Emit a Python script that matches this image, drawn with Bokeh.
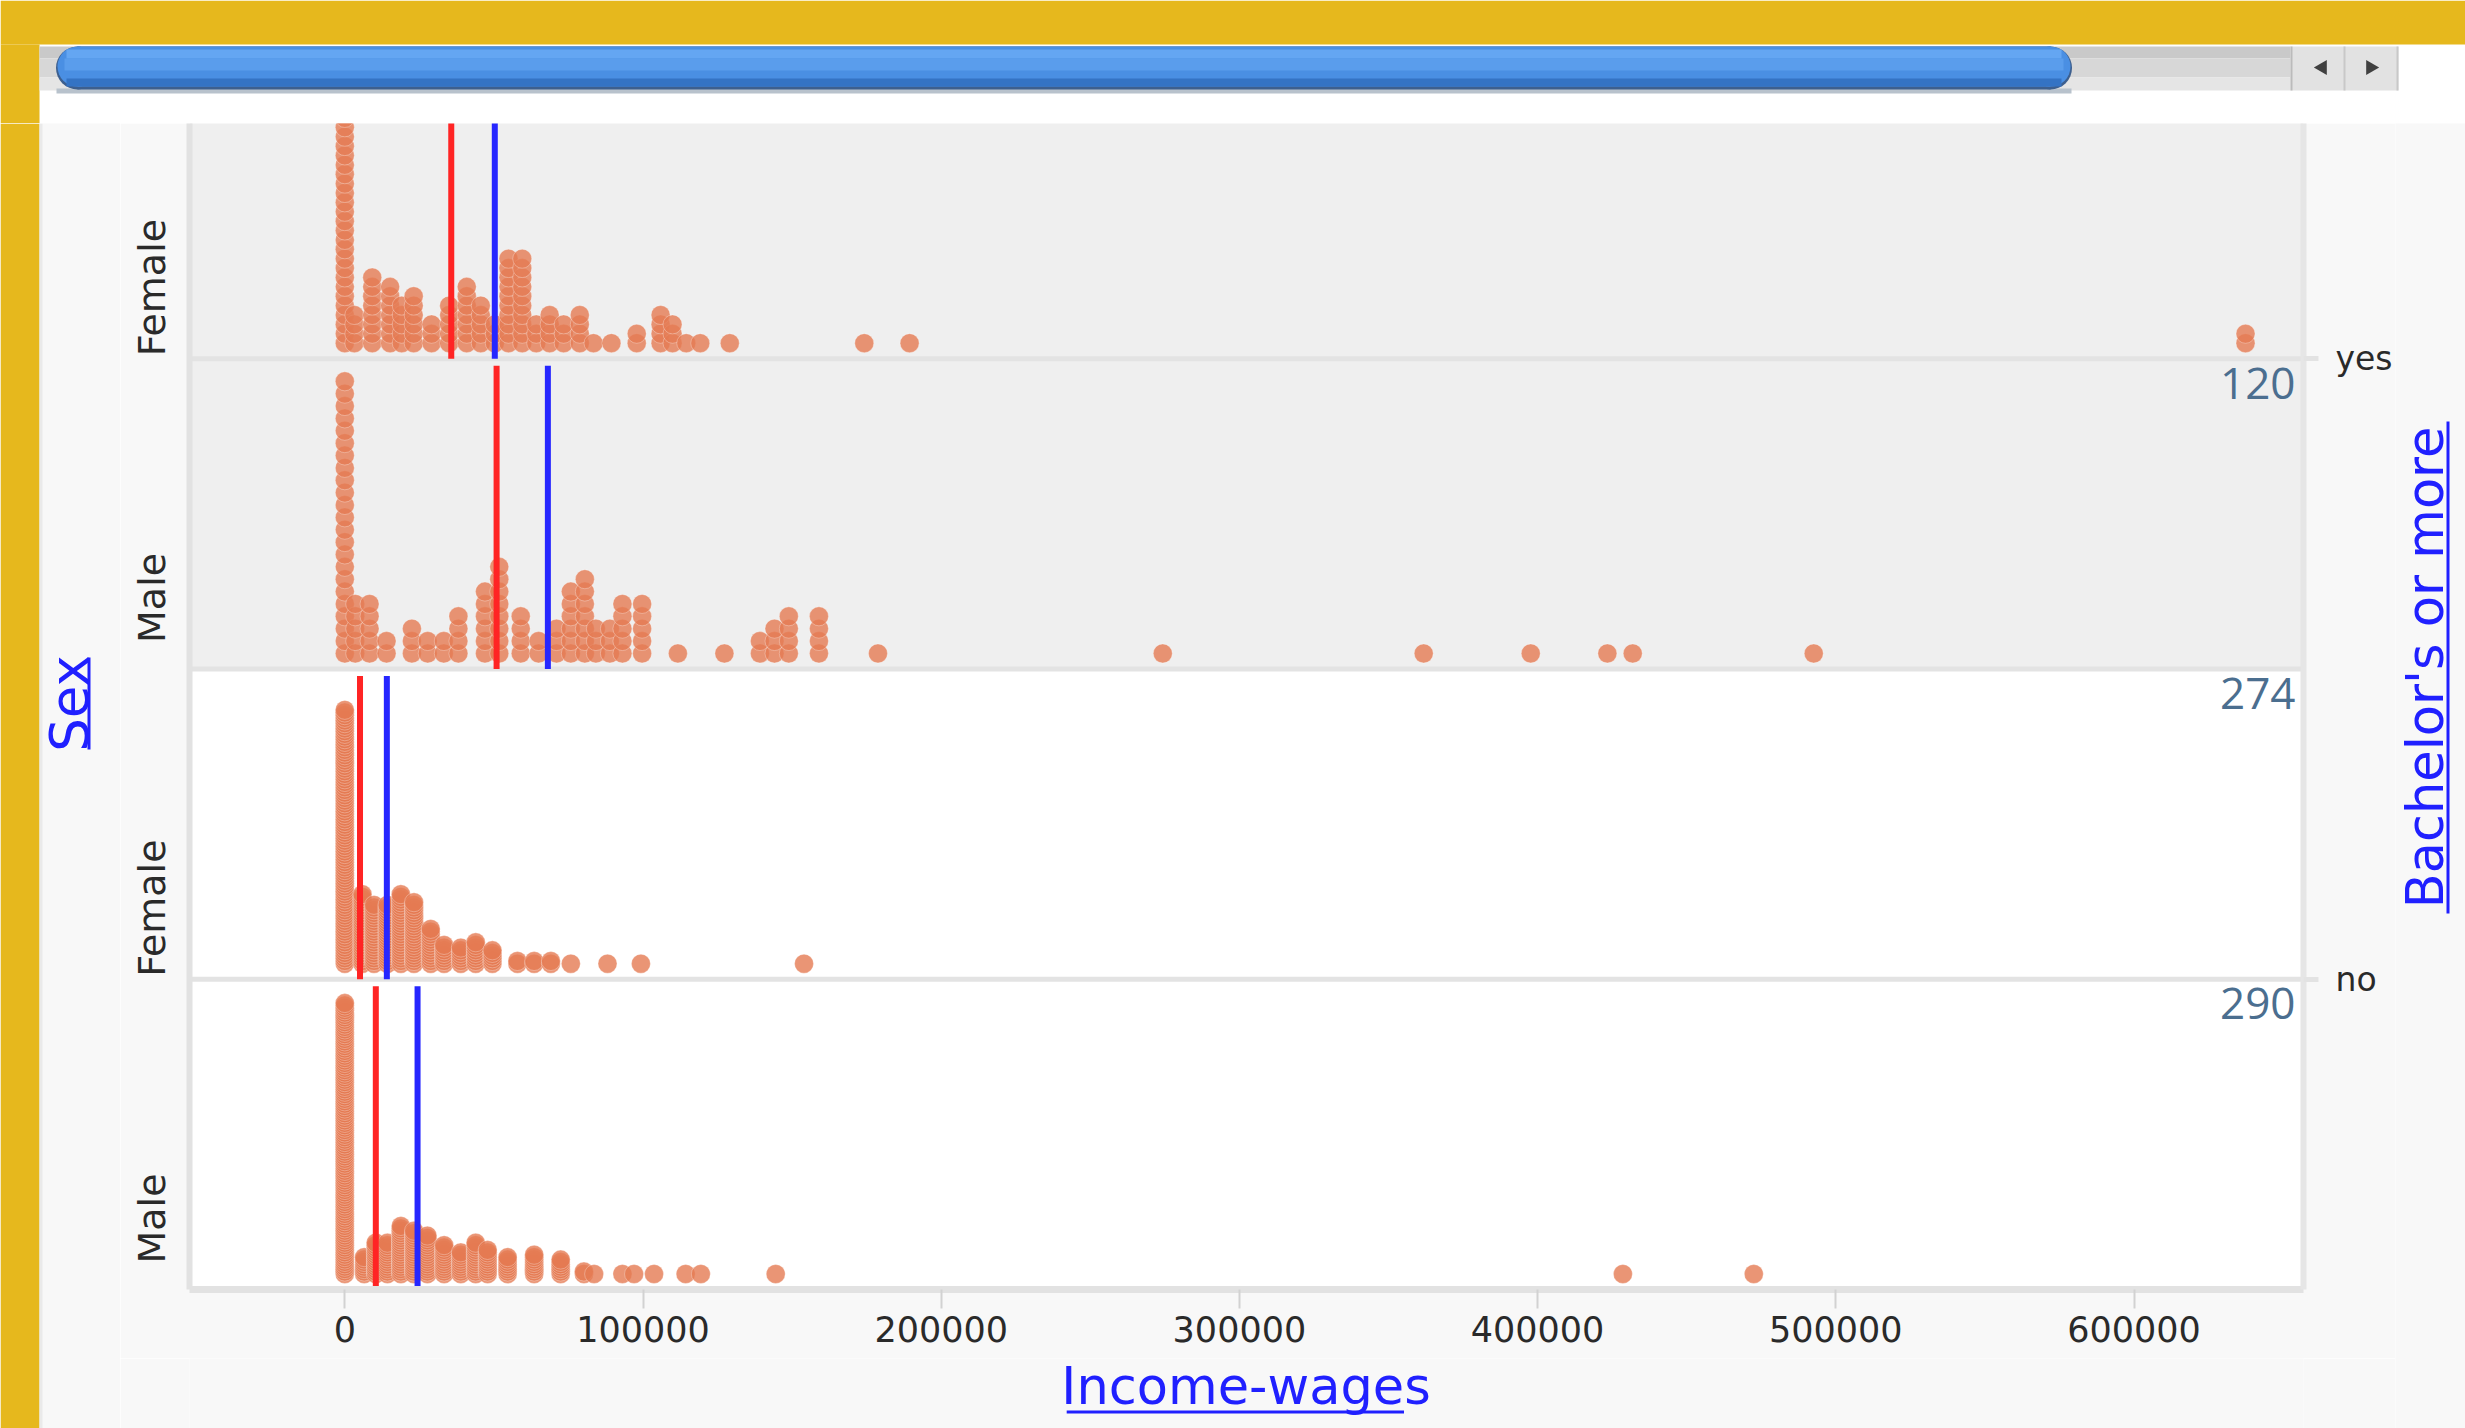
import math
from bokeh.plotting import figure
from bokeh.layouts import row, column
from bokeh.models import (BoxAnnotation, Span, FixedTicker, LinearAxis,
                          NumeralTickFormatter, ColumnDataSource, Range1d)
from bokeh.core.properties import value
from bokeh.embed import file_html
from bokeh.resources import INLINE

# ---------------- data ----------------
panel_bachelor = ["yes", "yes", "no", "no"]          # panels, top to bottom
panel_sex = ["Female", "Male", "Female", "Male"]

yes_female_income = [0, 3200, 9200, 15200, 19100, 23100, 29100, 35000, 40900, 45600,
                     50300, 54900, 59500, 64200, 68700, 73400, 78800, 83400, 89400, 97900,
                     105900, 109900, 114500, 119200, 129100, 174200, 189400, 637400]
yes_female_count = [30, 4, 8, 7, 5, 6, 3, 5, 7, 5,
                    3, 10, 10, 3, 4, 3, 4, 1, 1, 2,
                    4, 3, 1, 1, 1, 1, 1, 2]

yes_male_income = [0, 3500, 8300, 14000, 22500, 27800, 33200, 38100, 47000, 51800,
                   59000, 65000, 71000, 75800, 80500, 84200, 88900, 93100, 99700, 111700,
                   127300, 139200, 144100, 148900, 159000, 178800, 274300, 361800, 397700,
                   423400, 431900, 492600]
yes_male_count = [23, 5, 5, 2, 3, 2, 2, 4, 6, 8,
                  4, 2, 3, 6, 7, 3, 3, 5, 5, 1,
                  1, 2, 3, 4, 4, 1, 1, 1, 1,
                  1, 1, 1]

no_female_income = [0, 5900, 9800, 14300, 18800, 23200, 28800, 33300, 38900, 43900,
                    49500, 57900, 63500, 69100, 75800, 88100, 99300, 154000]
no_female_count = [96, 27, 23, 23, 27, 24, 14, 8, 7, 9,
                   6, 2, 2, 2, 1, 1, 1, 1]

no_male_income = [0, 6500, 10400, 14300, 18800, 23200, 27700, 33300, 38900, 43900,
                  47900, 54600, 63500, 72400, 80200, 83600, 93100, 97000, 103700, 114300,
                  119400, 144500, 428600, 472500]
no_male_count = [114, 8, 14, 14, 21, 19, 17, 13, 10, 14,
                 11, 8, 9, 7, 2, 1, 1, 1, 1, 1,
                 1, 1, 1, 1]

median_income = [35700, 50900, 5100, 10400]   # red lines
mean_income = [50300, 68100, 14100, 24400]     # blue lines
income_ticks = [0, 100000, 200000, 300000, 400000, 500000, 600000]

x_title = "Income-wages"
y_title = "Sex"
split_title = "Bachelor's or more"

panel_income = [yes_female_income, yes_male_income, no_female_income, no_male_income]
panel_count = [yes_female_count, yes_male_count, no_female_count, no_male_count]

# ---------------- layout (page pixels) ----------------
PAGE_W, PAGE_H = 2465, 1428
TOP_H = 123                 # window chrome above the plot
LEFT_W = 120                # yellow edge + "Sex"
RIGHT_W = 70                # "Bachelor's or more"
BOTTOM_Y = 1358             # strip that holds "Income-wages"
MAIN_W = PAGE_W - LEFT_W - RIGHT_W
MAIN_H = BOTTOM_Y - TOP_H
FRAME_L, FRAME_R, FRAME_B = 189, 2303, 1289      # plot frame, page pixels

PX_PER_INCOME = 298.2 / 100000.0
ZERO_PX = 344.3
X0 = (FRAME_L - ZERO_PX) / PX_PER_INCOME
X1 = (FRAME_R - ZERO_PX) / PX_PER_INCOME
N = len(panel_sex)
Y_TOP = 3.758                                   # top panel partly scrolled away
stack_fill = [0.877, 0.877, 0.818, 0.873]
DOT_BASE = 0.05

YELLOW = "#E6B81D"
OUTER = "#F8F8F8"
TITLE_BLUE = "#2020FF"


def chrome(w, h, x0, x1, y0, y1, bg):
    f = figure(width=w, height=h, x_range=Range1d(x0, x1), y_range=Range1d(y1, y0),
               output_backend="svg", toolbar_location=None,
               x_axis_location=None, y_axis_location=None, min_border=0,
               background_fill_color=bg, border_fill_color=bg, outline_line_color=None)
    f.title.visible = False
    f.xgrid.visible = False
    f.ygrid.visible = False
    return f


def box(f, l, r, t, b, color):
    f.quad(left=[l], right=[r], top=[t], bottom=[b], fill_color=color, line_color=None)


# ---------------- top: yellow edge and scroll bar ----------------
top = chrome(PAGE_W, TOP_H, 0, PAGE_W, 0, TOP_H, "white")
box(top, 0, PAGE_W, 0, 44, YELLOW)
box(top, 0, 39, 44, TOP_H, YELLOW)
box(top, 39, 2290, 46, 58, "#C9C9C9")
box(top, 39, 2290, 58, 77, "#D7D7D7")
box(top, 39, 2290, 77, 90, "#E5E5E5")
box(top, 56, 2071, 88, 93, "#B8C2CC")
top.circle(x=[77, 2050], y=[67.5, 67.5], radius=21.5, fill_color="#3D5F8E", line_color=None)
box(top, 77, 2050, 46, 89, "#3D5F8E")
top.circle(x=[77, 2050], y=[66, 66], radius=20, fill_color="#4A8FE3", line_color=None)
box(top, 77, 2050, 46, 86, "#4A8FE3")
box(top, 66, 2061, 49, 58, "#64A6F2")
box(top, 64, 2063, 58, 70, "#5A9DEC")
box(top, 66, 2061, 78, 86, "#3473C4")
box(top, 2290, 2398, 46, 90, "#E2E2E2")
box(top, 2290, 2292, 46, 90, "#BBBBBB")
box(top, 2343, 2345, 46, 90, "#C8C8C8")
box(top, 2396, 2398, 46, 90, "#C8C8C8")
top.scatter(x=[2322, 2370], y=[67, 67], marker="triangle", size=15,
            angle=[math.pi / 2, -math.pi / 2], fill_color="#404040", line_color=None)

# ---------------- left: yellow edge and the "Sex" title ----------------
left = chrome(LEFT_W, PAGE_H - TOP_H, 0, LEFT_W, TOP_H, PAGE_H, OUTER)
box(left, 0, 39, TOP_H, PAGE_H, YELLOW)
box(left, 39, 42, TOP_H, PAGE_H, "#EAEAEA")
left.text(x=[69], y=[703], text=[y_title], angle=math.pi / 2, text_align="center",
          text_baseline="middle", text_font=value("DejaVu Sans"),
          text_font_size="53px", text_color=TITLE_BLUE)
box(left, 87, 90, 657, 749, TITLE_BLUE)

# ---------------- right: "Bachelor's or more" ----------------
right = chrome(RIGHT_W, PAGE_H - TOP_H, PAGE_W - RIGHT_W, PAGE_W, TOP_H, PAGE_H, OUTER)
right.text(x=[2425], y=[667], text=[split_title], angle=math.pi / 2, text_align="center",
           text_baseline="middle", text_font=value("DejaVu Sans"),
           text_font_size="51px", text_color=TITLE_BLUE)
box(right, 2446, 2449, 421, 913, TITLE_BLUE)

# ---------------- bottom: "Income-wages" ----------------
bottom = chrome(MAIN_W, PAGE_H - BOTTOM_Y, LEFT_W, LEFT_W + MAIN_W, BOTTOM_Y, PAGE_H, OUTER)
bottom.text(x=[(FRAME_L + FRAME_R) / 2 + 11], y=[1386], text=[x_title], text_align="center",
            text_baseline="middle", text_font=value("DejaVu Sans"),
            text_font_size="51px", text_color=TITLE_BLUE)
box(bottom, 1064, 1427, 1410, 1413, TITLE_BLUE)

# ---------------- main dot plot ----------------
p_main = figure(width=MAIN_W, height=MAIN_H, output_backend="svg", toolbar_location=None,
                x_range=Range1d(X0, X1), y_range=Range1d(0, Y_TOP),
                x_axis_location=None, y_axis_location=None,
                min_border_left=FRAME_L - LEFT_W, min_border_right=LEFT_W + MAIN_W - FRAME_R,
                min_border_top=0, min_border_bottom=BOTTOM_Y - FRAME_B,
                background_fill_color="white", border_fill_color=OUTER,
                outline_line_color=None)
p_main.title.visible = False
p_main.xgrid.visible = False
p_main.ygrid.visible = False

for i in range(N):
    base = N - 1 - i
    if panel_bachelor[i] == "yes":
        p_main.add_layout(BoxAnnotation(bottom=base, top=base + 1, fill_color="#EFEFEF",
                                        fill_alpha=1, line_color=None, level="underlay"))
for i in range(1, N):
    p_main.add_layout(Span(location=i, dimension="width", line_color="#E3E3E3",
                           line_width=5, level="underlay"))

xs, ys = [], []
for i in range(N):
    base = N - 1 - i
    s = stack_fill[i] / (max(panel_count[i]) - 1)
    for v, c in zip(panel_income[i], panel_count[i]):
        for k in range(c):
            xs.append(v)
            ys.append(base + DOT_BASE + k * s)
src = ColumnDataSource(dict(x=xs, y=ys))
p_main.scatter(x="x", y="y", source=src, marker="circle", size=19,
               fill_color="#E57A52", fill_alpha=0.8, line_color="white",
               line_alpha=0.3, line_width=1)

bases = [N - 1 - i for i in range(N)]
p_main.segment(x0=median_income, y0=bases, x1=median_income, y1=[b + 0.977 for b in bases],
               line_color="#FF2424", line_width=6)
p_main.segment(x0=mean_income, y0=bases, x1=mean_income, y1=[b + 0.977 for b in bases],
               line_color="#2626FF", line_width=6)

# case counts, only for panels whose top edge is inside the visible area
cx, cy, ct = [], [], []
for b, c in zip(bases, panel_count):
    if b + 1 <= Y_TOP:
        cx.append(X1)
        cy.append(b + 1)
        ct.append(str(sum(c)))
csrc = ColumnDataSource(dict(x=cx, y=cy, t=ct))
p_main.text(x="x", y="y", text="t", source=csrc, text_align="right", text_baseline="top",
            x_offset=-8, y_offset=9, text_font=value("Open Sans"), text_font_size="44px",
            text_color="#4B6E8F")

xaxis = LinearAxis(ticker=FixedTicker(ticks=income_ticks),
                   formatter=NumeralTickFormatter(format="0"))
xaxis.axis_line_color = "#E2E2E2"
xaxis.axis_line_width = 7
xaxis.major_tick_line_color = "#D2D2D2"
xaxis.major_tick_line_width = 2
xaxis.major_tick_in = 0
xaxis.major_tick_out = 19
xaxis.minor_tick_line_color = None
xaxis.major_label_standoff = 7
xaxis.major_label_text_font = "DejaVu Sans"
xaxis.major_label_text_font_size = "35px"
xaxis.major_label_text_color = "#2A2A2A"
p_main.add_layout(xaxis, "below")

sex_ticks = [b + 0.229 for b in bases]
yaxis = LinearAxis(ticker=FixedTicker(ticks=sex_ticks),
                   major_label_overrides={t: s for t, s in zip(sex_ticks, panel_sex)})
yaxis.axis_line_color = "#E2E2E2"
yaxis.axis_line_width = 6
yaxis.major_tick_line_color = None
yaxis.major_tick_in = 0
yaxis.major_tick_out = 0
yaxis.minor_tick_line_color = None
yaxis.major_label_orientation = "vertical"
yaxis.major_label_standoff = 15
yaxis.major_label_text_font = "DejaVu Sans"
yaxis.major_label_text_font_size = "38px"
yaxis.major_label_text_color = "#2A2A2A"
p_main.add_layout(yaxis, "left")

bach_ticks = [N - 1 - 2 * g for g in range(2)]  # centres of the yes / no groups
raxis = LinearAxis(ticker=FixedTicker(ticks=bach_ticks),
                   major_label_overrides={t: s for t, s in zip(bach_ticks, ["yes", "no"])})
raxis.axis_line_color = "#E6E6E6"
raxis.axis_line_width = 6
raxis.major_tick_line_color = "#E3E3E3"
raxis.major_tick_line_width = 5
raxis.major_tick_in = 0
raxis.major_tick_out = 15
raxis.minor_tick_line_color = None
raxis.major_label_standoff = 17
raxis.major_label_text_font = "DejaVu Sans"
raxis.major_label_text_font_size = "33px"
raxis.major_label_text_color = "#2A2A2A"
p_main.add_layout(raxis, "right")

p = column(top, row(left, column(p_main, bottom), right))

open("out.html", "w").write(file_html(p, INLINE))
